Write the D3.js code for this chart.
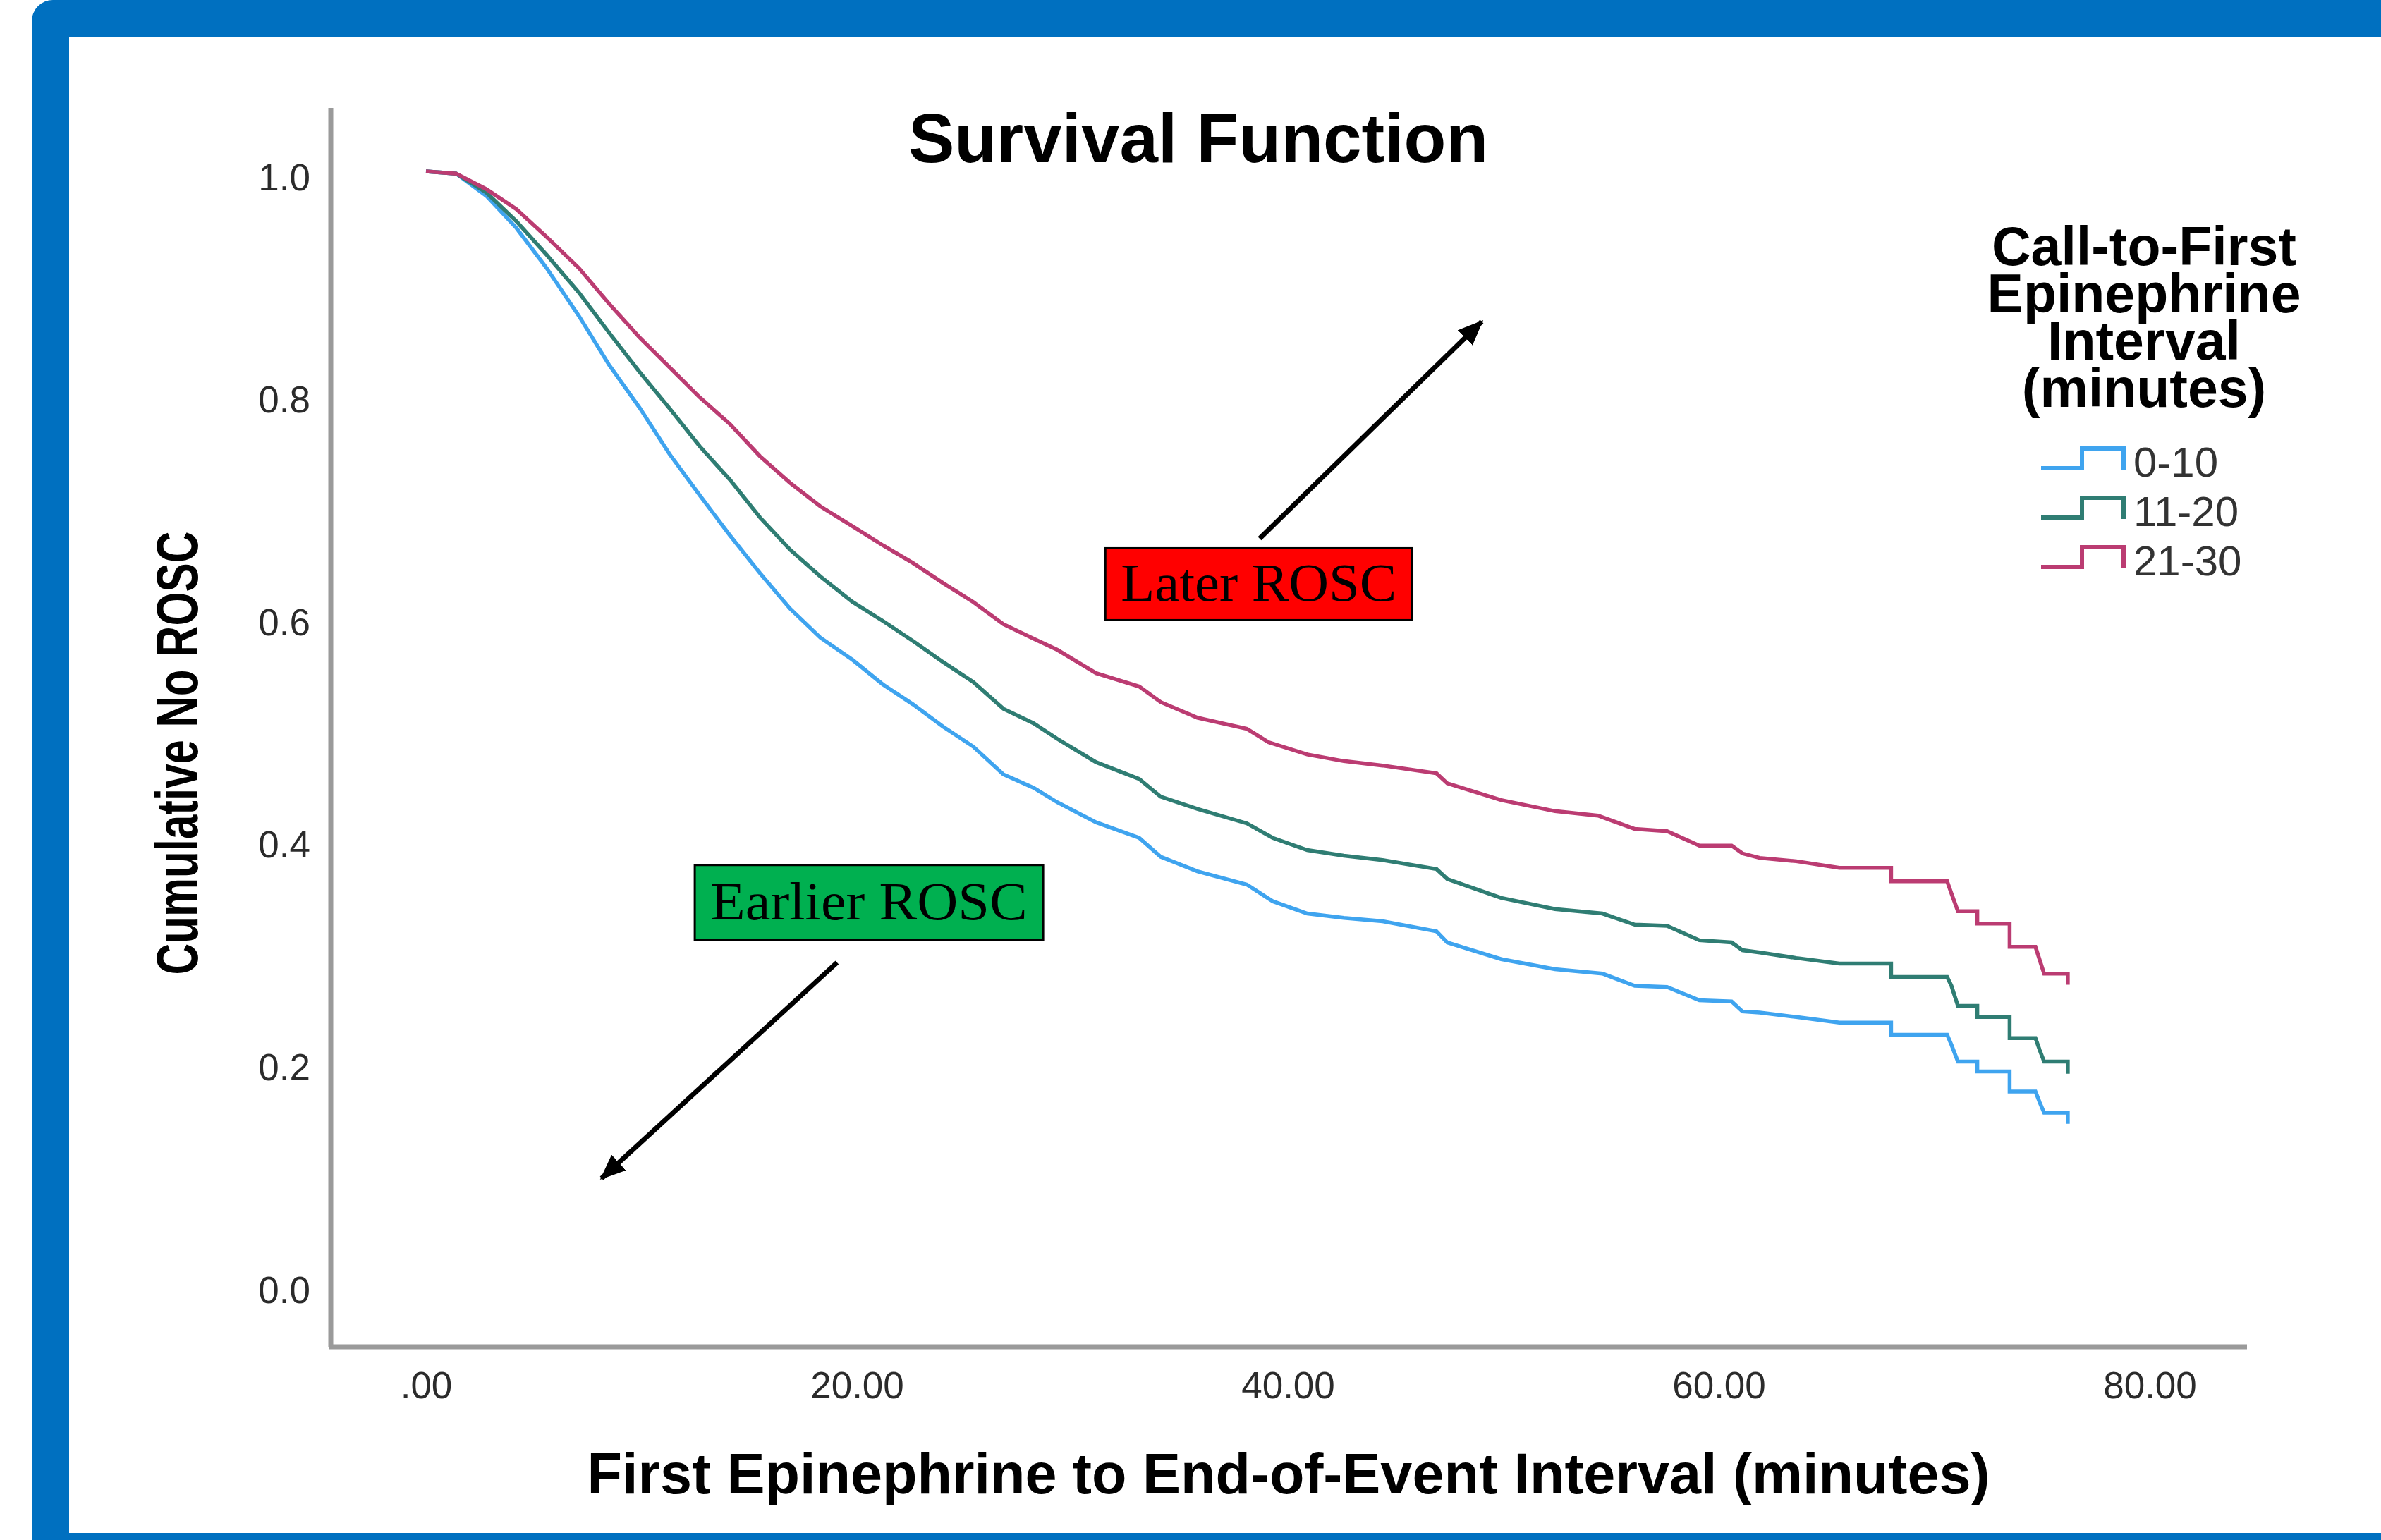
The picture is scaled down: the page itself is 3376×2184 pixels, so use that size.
<!DOCTYPE html>
<html><head><meta charset="utf-8">
<script src="https://cdn.jsdelivr.net/npm/d3@7"></script>
<style>html,body{margin:0;padding:0;background:#fff;overflow:hidden}</style>
</head><body>
<svg id="chart" width="3376" height="2184" xmlns="http://www.w3.org/2000/svg"></svg>
<script>
// ---------- DATA ----------
const seriesNames = ["0-10", "11-20", "21-30"];
const seriesColors = ["#3fa4ef", "#2f7d73", "#bb3c72"];

// [minutes, cumulative no ROSC]
const series0to10 = [
  [0,1.0],[1.4,0.998],[2.8,0.978],[4.2,0.949],[5.6,0.913],[7.1,0.870],[8.5,0.826],[9.9,0.788],
  [11.3,0.746],[12.7,0.709],[14.1,0.673],[15.5,0.639],[16.9,0.607],[18.3,0.581],[19.8,0.561],
  [21.2,0.539],[22.6,0.521],[24.0,0.501],[25.4,0.483],[26.8,0.458],[28.2,0.446],[29.3,0.433],
  [31.1,0.415],[33.1,0.401],[34.1,0.384],[35.8,0.371],
  [38.1,0.359],[39.3,0.344],[40.9,0.333],[42.6,0.329],[44.4,0.326],[46.9,0.317],[47.4,0.307],
  [49.9,0.292],[52.4,0.283],[54.6,0.279],[56.1,0.268],[57.6,0.267],[59.1,0.255],[60.6,0.254],
  [61.1,0.245],[61.9,0.244],[63.6,0.240],[65.6,0.235],[68.0,0.235],[68.0,0.224],[70.6,0.224],
  [70.8,0.215],[71.1,0.200],[72.0,0.200],[72.0,0.191],[73.5,0.191],[73.5,0.173],[74.7,0.173],
  [74.9,0.163],[75.1,0.154],[76.2,0.154],[76.2,0.144]
];
const series11to20 = [
  [0,1.0],[1.4,0.998],[2.8,0.981],[4.2,0.955],[5.6,0.925],[7.1,0.891],[8.5,0.855],[9.9,0.820],
  [11.3,0.787],[12.7,0.753],[14.1,0.723],[15.5,0.689],[16.9,0.660],[18.3,0.636],[19.8,0.613],
  [21.2,0.596],[22.6,0.578],[24.0,0.559],[25.4,0.541],[26.8,0.517],[28.2,0.504],[29.3,0.490],
  [31.1,0.469],[33.1,0.454],[34.1,0.438],[35.8,0.427],
  [38.1,0.414],[39.3,0.401],[40.9,0.390],[42.6,0.385],[44.4,0.381],[46.9,0.373],[47.4,0.364],
  [49.9,0.347],[52.4,0.337],[54.6,0.333],[56.1,0.323],[57.6,0.322],[59.1,0.309],[60.6,0.307],
  [61.1,0.300],[61.9,0.298],[63.6,0.293],[65.6,0.288],[68.0,0.288],[68.0,0.276],[70.6,0.276],
  [70.8,0.268],[71.1,0.250],[72.0,0.250],[72.0,0.240],[73.5,0.240],[73.5,0.221],[74.7,0.221],
  [74.9,0.210],[75.1,0.200],[76.2,0.200],[76.2,0.189]
];
const series21to30 = [
  [0,1.0],[1.4,0.998],[2.8,0.984],[4.2,0.966],[5.6,0.941],[7.1,0.913],[8.5,0.881],[9.9,0.851],
  [11.3,0.824],[12.7,0.797],[14.1,0.773],[15.5,0.744],[16.9,0.720],[18.3,0.699],[19.8,0.681],
  [21.2,0.664],[22.6,0.648],[24.0,0.630],[25.4,0.613],[26.8,0.593],[28.2,0.580],[29.3,0.570],
  [31.1,0.549],[33.1,0.537],[34.1,0.523],
  [35.8,0.509],[38.1,0.499],[39.1,0.487],[40.9,0.476],[42.6,0.470],[44.4,0.466],[46.9,0.459],
  [47.4,0.450],[49.9,0.435],[52.4,0.425],[54.4,0.421],[56.1,0.409],[57.6,0.407],[59.1,0.394],
  [60.6,0.394],[61.1,0.387],[61.9,0.383],[63.6,0.380],[65.6,0.374],[68.0,0.374],[68.0,0.362],
  [70.6,0.362],[70.8,0.351],[71.1,0.335],[72.0,0.335],[72.0,0.324],[73.5,0.324],[73.5,0.303],
  [74.7,0.303],[74.9,0.291],[75.1,0.279],[76.2,0.279],[76.2,0.269]
];
const seriesValues = [series0to10, series11to20, series21to30];

const xTickValues = [0, 20, 40, 60, 80];
const xTickLabels = [".00", "20.00", "40.00", "60.00", "80.00"];
const yTickValues = [0, 0.2, 0.4, 0.6, 0.8, 1.0];
const yTickLabels = ["0.0", "0.2", "0.4", "0.6", "0.8", "1.0"];

const chartTitle = "Survival Function";
const xTitle = "First Epinephrine to End-of-Event Interval (minutes)";
const yTitle = "Cumulative No ROSC";
const legendTitle = "Call-to-First Epinephrine Interval (minutes)";
const annotationTexts = ["Later ROSC", "Earlier ROSC"];

// ---------- LAYOUT ----------
const W = 3376, H = 2184;
const SANS = "'Liberation Sans', Arial, Helvetica, sans-serif";
const SERIF = "'Liberation Serif', 'Times New Roman', serif";
const svg = d3.select("#chart");

// frame
svg.append("rect").attr("x", 45).attr("y", 0).attr("width", W + 100).attr("height", H + 100)
  .attr("rx", 30).attr("fill", "#0070C0");
svg.append("rect").attr("x", 98).attr("y", 52).attr("width", W).attr("height", 2174 - 52)
  .attr("fill", "#ffffff");

const x = d3.scaleLinear().domain([0, 80]).range([604, 3048]);
const y = d3.scaleLinear().domain([0, 1]).range([1821, 243]);

// axis frame lines
const axisColor = "#9a9a9a";
svg.append("line").attr("x1", 469).attr("x2", 469).attr("y1", 153).attr("y2", 1910)
  .attr("stroke", axisColor).attr("stroke-width", 7);
svg.append("line").attr("x1", 466).attr("x2", 3186).attr("y1", 1910).attr("y2", 1910)
  .attr("stroke", axisColor).attr("stroke-width", 7);

// x axis
const gx = svg.append("g").attr("transform", "translate(0,1910)")
  .call(d3.axisBottom(x).tickValues(xTickValues).tickFormat((d, i) => xTickLabels[i])
    .tickSize(0).tickPadding(35));
gx.select(".domain").remove();
gx.attr("font-family", SANS).attr("font-size", 53).attr("color", "#2b2b2b");

// y axis
const gy = svg.append("g").attr("transform", "translate(469,0)")
  .call(d3.axisLeft(y).tickValues(yTickValues).tickFormat((d, i) => yTickLabels[i])
    .tickSize(0).tickPadding(29));
gy.select(".domain").remove();
gy.attr("font-family", SANS).attr("font-size", 53).attr("color", "#2b2b2b");
gy.selectAll("text").attr("dy", 26);

// titles
svg.append("text").attr("x", 1699).attr("y", 230).attr("text-anchor", "middle")
  .attr("font-family", SANS).attr("font-weight", "bold").attr("font-size", 98)
  .attr("fill", "#000").text(chartTitle);
svg.append("text").attr("x", 1827).attr("y", 2118).attr("text-anchor", "middle")
  .attr("font-family", SANS).attr("font-weight", "bold").attr("font-size", 81)
  .attr("fill", "#000").text(xTitle);
svg.append("text").attr("transform", "translate(280,1068) rotate(-90)")
  .attr("text-anchor", "middle").attr("font-family", SANS).attr("font-weight", "bold")
  .attr("font-size", 84).attr("textLength", 629).attr("lengthAdjust", "spacingAndGlyphs")
  .attr("fill", "#000").text(yTitle);

// curves
const line = d3.line().x(d => x(d[0])).y(d => y(d[1])).curve(d3.curveLinear);
svg.append("g").selectAll("path").data(seriesValues).join("path")
  .attr("d", line).attr("fill", "none")
  .attr("stroke", (d, i) => seriesColors[i]).attr("stroke-width", 5.5)
  .attr("stroke-linejoin", "miter");

// legend title: one wrapped text block
const lg = svg.append("g");
lg.append("foreignObject").attr("x", 2800).attr("y", 316).attr("width", 480).attr("height", 290)
  .append("xhtml:div")
  .style("width", "480px").style("text-align", "center")
  .style("font-family", SANS).style("font-weight", "bold").style("font-size", "77px")
  .style("line-height", "67px").style("color", "#000")
  .text(legendTitle);
const items = lg.selectAll("g.item").data(seriesNames).join("g").attr("class", "item")
  .attr("transform", (d, i) => `translate(0,${664 + i * 70})`);
items.append("path").attr("d", "M2894,0 H2952 V-28 H3011 V2").attr("fill", "none")
  .attr("stroke", (d, i) => seriesColors[i]).attr("stroke-width", 6);
items.append("text").attr("x", 3025).attr("y", 12).attr("font-family", SANS)
  .attr("font-size", 60).attr("fill", "#333").text(d => d);

// annotations
const defs = svg.append("defs");
defs.append("marker").attr("id", "ah").attr("viewBox", "0 0 12 10")
  .attr("refX", 11).attr("refY", 5).attr("markerUnits", "userSpaceOnUse")
  .attr("markerWidth", 36).attr("markerHeight", 30).attr("orient", "auto")
  .append("path").attr("d", "M0,0 L12,5 L0,10 z").attr("fill", "#000");

const annotations = [
  { text: annotationTexts[0], fill: "#FF0000", cx: 38.65, cy: 0.629, w: 435, h: 102, tl: 391,
    from: [38.69, 0.670], to: [49.0, 0.865] },
  { text: annotationTexts[1], fill: "#00B050", cx: 20.56, cy: 0.343, w: 494, h: 106, tl: 449,
    from: [19.08, 0.289], to: [8.15, 0.095] }
];
annotations.forEach(a => {
  svg.append("line").attr("x1", x(a.from[0])).attr("y1", y(a.from[1]))
    .attr("x2", x(a.to[0])).attr("y2", y(a.to[1]))
    .attr("stroke", "#000").attr("stroke-width", 7).attr("marker-end", "url(#ah)");
  const cx = x(a.cx), cy = y(a.cy);
  svg.append("rect").attr("x", cx - a.w / 2).attr("y", cy - a.h / 2)
    .attr("width", a.w).attr("height", a.h).attr("fill", a.fill)
    .attr("stroke", "#000").attr("stroke-width", 3);
  svg.append("text").attr("x", cx).attr("y", cy + 24).attr("text-anchor", "middle")
    .attr("font-family", SERIF).attr("font-size", 76)
    .attr("textLength", a.tl).attr("lengthAdjust", "spacingAndGlyphs")
    .attr("fill", "#000").text(a.text);
});
</script>
</body></html>
